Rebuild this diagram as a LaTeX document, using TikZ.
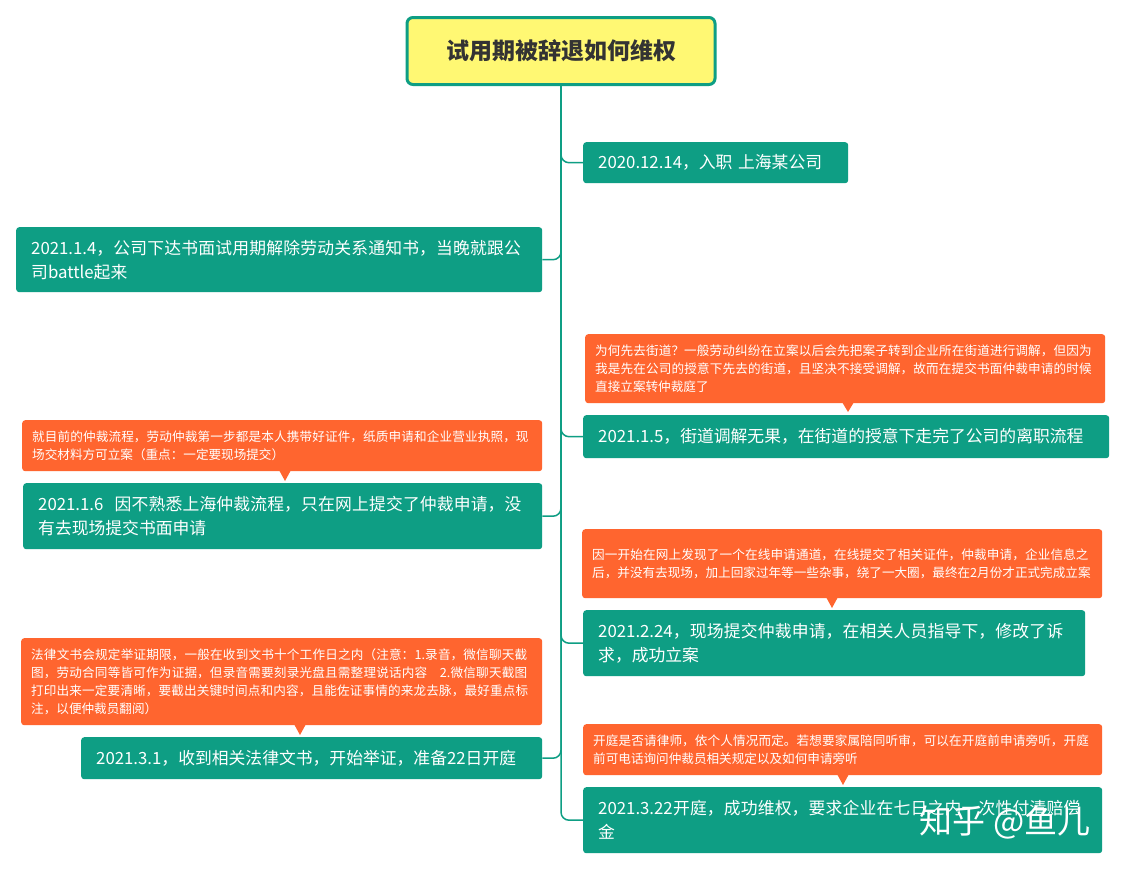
\documentclass[tikz,border=0pt]{standalone}
\usepackage{fontspec}
\setmainfont{Noto Sans CJK SC}
\XeTeXlinebreaklocale "zh"
\XeTeXlinebreakskip=0pt plus 1pt
\begin{document}
\begin{tikzpicture}[x=1pt,y=-1pt,
  box/.style={fill=teal1,text=white,rounded corners=3,anchor=north west,align=left,inner xsep=15,inner ysep=4,font=\fontsize{16.8}{24}\selectfont},
  note/.style={fill=orange1,text=white,rounded corners=3,anchor=north west,align=left,inner xsep=10,inner ysep=4,font=\fontsize{12.6}{18}\selectfont},
  link/.style={draw=teal1,line width=1.5,rounded corners=8}]
\definecolor{teal1}{HTML}{0E9E84}
\definecolor{orange1}{HTML}{FF652F}
\useasboundingbox[fill=white] (0,0) rectangle (1124,870);
\node[fill=yellow!55!white,draw=teal1,line width=3,rounded corners=6,minimum width=308,minimum height=67,font=\fontsize{23}{26}\selectfont\bfseries,text=black!80] (root) at (561,51) {试用期被辞退如何维权};
% boxes
\node[box,minimum height=41,text width=235] (b1) at (583,142) {2020.12.14，入职 上海某公司};
\node[box,minimum height=65,text width=496] (b2) at (16,227) {2021.1.4，公司下达书面试用期解除劳动关系通知书，当晚就跟公司battle起来};
\node[box,minimum height=43,text width=496] (b3) at (583,415) {2021.1.5，街道调解无果，在街道的授意下走完了公司的离职流程};
\node[box,minimum height=66,text width=489] (b4) at (23,483) {2021.1.6\ \ 因不熟悉上海仲裁流程，只在网上提交了仲裁申请，没有去现场提交书面申请};
\node[box,minimum height=66,text width=472] (b5) at (583,610) {2021.2.24，现场提交仲裁申请，在相关人员指导下，修改了诉求，成功立案};
\node[box,minimum height=42,text width=431] (b6) at (81,737) {2021.3.1，收到相关法律文书，开始举证，准备22日开庭};
\node[box,minimum height=66,text width=489] (b7) at (583,787) {2021.3.22开庭，成功维权，要求企业在七日之内一次性付清赔偿金};
% notes
\node[note,minimum height=69,text width=500] (n1) at (585,334) {为何先去街道？一般劳动纠纷在立案以后会先把案子转到企业所在街道进行调解，但因为我是先在公司的授意下先去的街道，且坚决不接受调解，故而在提交书面仲裁申请的时候直接立案转仲裁庭了};
\node[note,minimum height=51,text width=500] (n2) at (22,420) {就目前的仲裁流程，劳动仲裁第一步都是本人携带好证件，纸质申请和企业营业执照，现场交材料方可立案（重点：一定要现场提交）};
\node[note,minimum height=69,text width=500] (n3) at (582,529) {因一开始在网上发现了一个在线申请通道，在线提交了相关证件，仲裁申请，企业信息之后，并没有去现场，加上回家过年等一些杂事，绕了一大圈，最终在2月份才正式完成立案};
\node[note,minimum height=87,text width=501] (n4) at (21,638) {法律文书会规定举证期限，一般在收到文书十个工作日之内（注意：1.录音，微信聊天截图，劳动合同等皆可作为证据，但录音需要刻录光盘且需整理说话内容\quad 2.微信聊天截图打印出来一定要清晰，要截出关键时间点和内容，且能佐证事情的来龙去脉，最好重点标注，以便仲裁员翻阅）};
\node[note,minimum height=51,text width=499] (n5) at (583,724) {开庭是否请律师，依个人情况而定。若想要家属陪同听审，可以在开庭前申请旁听，开庭前可电话询问仲裁员相关规定以及如何申请旁听};
% pointers
\fill[orange1] (842,402) -- (854,402) -- (848,412) -- cycle;
\fill[orange1] (279,470) -- (291,470) -- (285,481) -- cycle;
\fill[orange1] (826,597) -- (838,597) -- (832,608) -- cycle;
\fill[orange1] (294,724) -- (306,724) -- (300,735) -- cycle;
\fill[orange1] (837,774) -- (849,774) -- (843,785) -- cycle;
% links
\foreach \t in {b1,b3,b5,b7} \draw[link] (root.south) |- (\t.west);
\foreach \t in {b2,b4,b6} \draw[link] (root.south) |- (\t.east);
% watermark
\node[text=white,font=\fontsize{33}{36}\selectfont] (wm) at (1005,822) {知乎 @鱼儿};
\end{tikzpicture}
\end{document}
